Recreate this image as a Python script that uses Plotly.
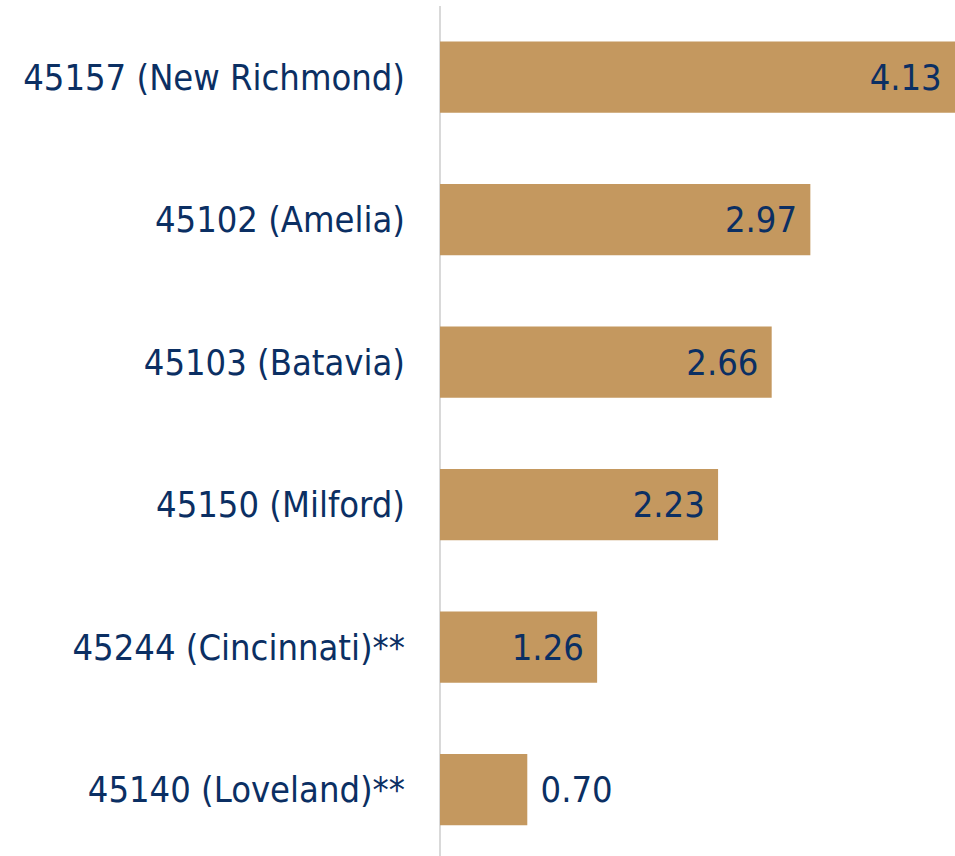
import plotly.graph_objects as go

categories = ["45157 (New Richmond)", "45102 (Amelia)", "45103 (Batavia)",
              "45150 (Milford)", "45244 (Cincinnati)**", "45140 (Loveland)**"]
values = [4.13, 2.97, 2.66, 2.23, 1.26, 0.70]

NAVY = "#0B2F63"
BAR = "#C4985F"
FONT = "DejaVu Sans Condensed, DejaVu Sans, sans-serif"
SIZE = 36

positions = ["inside" if v >= 1 else "outside" for v in values]
texts = [(f"{v:.2f}\u00a0" if p == "inside" else f"\u00a0{v:.2f}")
         for v, p in zip(values, positions)]

fig = go.Figure(go.Bar(
    x=values, y=categories, orientation="h",
    marker=dict(color=BAR, line=dict(width=0)),
    width=0.5,
    text=texts, textposition=positions,
    insidetextanchor="end",
    textfont=dict(family=FONT, size=SIZE, color=NAVY),
    insidetextfont=dict(family=FONT, size=SIZE, color=NAVY),
    outsidetextfont=dict(family=FONT, size=SIZE, color=NAVY),
    cliponaxis=False,
))

fig.update_layout(
    width=955, height=856,
    margin=dict(l=440, r=0, t=6, b=0),
    paper_bgcolor="white", plot_bgcolor="white",
    showlegend=False,
    xaxis=dict(range=[0, 4.13], showgrid=False, showticklabels=False,
               zeroline=True, zerolinecolor="#D9D9D9", zerolinewidth=2,
               fixedrange=True),
    yaxis=dict(type="category", range=[5.465, -0.5], showgrid=False,
               ticks="", ticklabelstandoff=34,
               tickfont=dict(family=FONT, size=SIZE, color=NAVY),
               fixedrange=True),
)

fig.write_html(
    "out.html",
    config={"displayModeBar": False},
    post_script="document.body.style.margin='0';document.body.style.overflow='hidden';",
)
